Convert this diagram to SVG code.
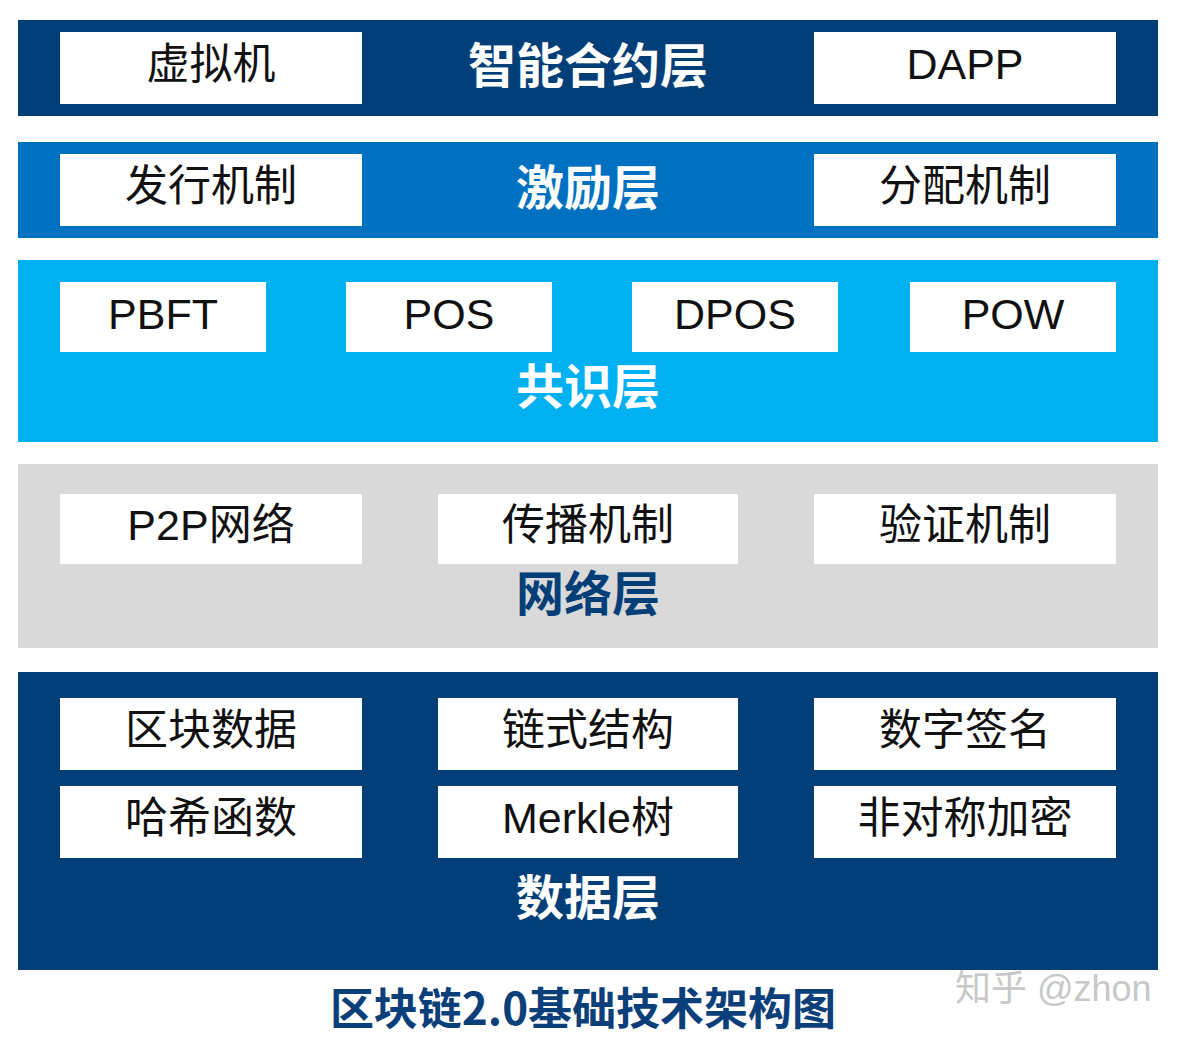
<svg xmlns="http://www.w3.org/2000/svg" width="1182" height="1038" viewBox="0 0 1182 1038">
<style>
.box{fill:#ffffff}
.t{font-family:"Liberation Sans","Noto Sans CJK SC",sans-serif;font-size:43px;fill:#111111;text-anchor:middle;dominant-baseline:central}
.lab{font-family:"Noto Sans CJK SC","Liberation Sans",sans-serif;font-size:48px;font-weight:bold;fill:#ffffff;text-anchor:middle;dominant-baseline:central}
</style>
<rect width="1182" height="1038" fill="#ffffff"/>
<g id="layer-contract">
<rect x="18" y="20" width="1140" height="96" fill="#023E78"/>
<rect class="box" x="60" y="32" width="302" height="72"/>
<text class="t" x="211" y="64">虚拟机</text>
<text class="lab" x="588" y="62">智能合约层</text>
<rect class="box" x="814" y="32" width="302" height="72"/>
<text class="t" x="965" y="64">DAPP</text>
</g>
<g id="layer-incentive">
<rect x="18" y="142" width="1140" height="96" fill="#0070C0"/>
<rect class="box" x="60" y="154" width="302" height="72"/>
<text class="t" x="211" y="186">发行机制</text>
<text class="lab" x="588" y="184">激励层</text>
<rect class="box" x="814" y="154" width="302" height="72"/>
<text class="t" x="965" y="186">分配机制</text>
</g>
<g id="layer-consensus">
<rect x="18" y="260" width="1140" height="182" fill="#00B0F0"/>
<rect class="box" x="60" y="282" width="206" height="70"/>
<text class="t" x="163" y="314">PBFT</text>
<rect class="box" x="346" y="282" width="206" height="70"/>
<text class="t" x="449" y="314">POS</text>
<rect class="box" x="632" y="282" width="206" height="70"/>
<text class="t" x="735" y="314">DPOS</text>
<rect class="box" x="910" y="282" width="206" height="70"/>
<text class="t" x="1013" y="314">POW</text>
<text class="lab" x="588" y="383">共识层</text>
</g>
<g id="layer-network">
<rect x="18" y="464" width="1140" height="184" fill="#D9D9D9"/>
<rect class="box" x="60" y="494" width="302" height="70"/>
<text class="t" x="211" y="525">P2P网络</text>
<rect class="box" x="438" y="494" width="300" height="70"/>
<text class="t" x="588" y="525">传播机制</text>
<rect class="box" x="814" y="494" width="302" height="70"/>
<text class="t" x="965" y="525">验证机制</text>
<text class="lab" x="588" y="590" style="fill:#023E78">网络层</text>
</g>
<g id="layer-data">
<rect x="18" y="672" width="1140" height="298" fill="#023E78"/>
<rect class="box" x="60" y="698" width="302" height="72"/>
<text class="t" x="211" y="730">区块数据</text>
<rect class="box" x="438" y="698" width="300" height="72"/>
<text class="t" x="588" y="730">链式结构</text>
<rect class="box" x="814" y="698" width="302" height="72"/>
<text class="t" x="965" y="730">数字签名</text>
<rect class="box" x="60" y="786" width="302" height="72"/>
<text class="t" x="211" y="818">哈希函数</text>
<rect class="box" x="438" y="786" width="300" height="72"/>
<text class="t" x="588" y="818">Merkle树</text>
<rect class="box" x="814" y="786" width="302" height="72"/>
<text class="t" x="965" y="818">非对称加密</text>
<text class="lab" x="588" y="894">数据层</text>
</g>
<g id="connectors"></g>
<text x="583" y="1006" style="font-family:'Noto Sans CJK SC','Liberation Sans',sans-serif;font-size:44px;font-weight:bold;fill:#0B3F7A;text-anchor:middle;dominant-baseline:central">区块链2.0基础技术架构图</text>
<text x="955" y="988" style="font-family:'Liberation Sans','Noto Sans CJK SC',sans-serif;font-size:36px;fill:#c8c8c8;dominant-baseline:central">知乎 @zhon</text>
</svg>
